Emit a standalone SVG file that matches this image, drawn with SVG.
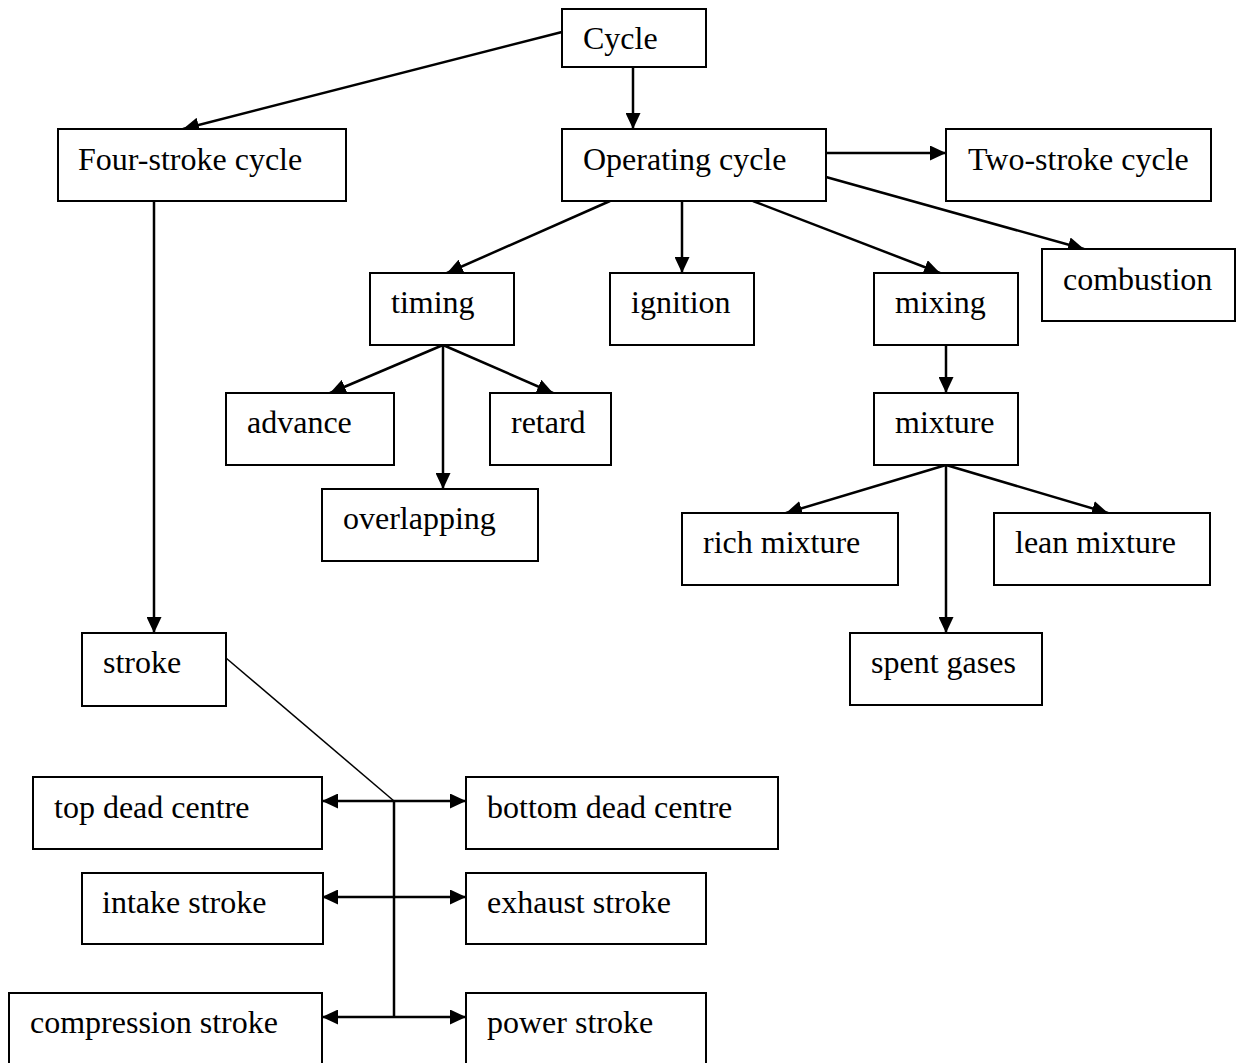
<svg xmlns="http://www.w3.org/2000/svg" width="1243" height="1063" viewBox="0 0 1243 1063">
<style>
.box{fill:#fff;stroke:#000;stroke-width:2}
.lbl{font-family:"Liberation Serif","Times New Roman",serif;font-size:32px;fill:#000}
.c{stroke:#000;stroke-width:2.5;fill:none}
.a{marker-end:url(#ah)}
.d{marker-start:url(#ah);marker-end:url(#ah)}
.thin{stroke:#000;stroke-width:1.5;fill:none}
</style>
<defs>
<marker id="ah" markerUnits="userSpaceOnUse" markerWidth="16" markerHeight="15" refX="16" refY="7.5" orient="auto-start-reverse" viewBox="0 0 16 15">
<path d="M0,0 L16,7.5 L0,15 z" fill="#000"/>
</marker>
</defs>
<rect width="1243" height="1063" fill="#fff"/>
<g id="connectors">
<line class="c a" x1="562" y1="32" x2="183" y2="129"/>
<line class="c a" x1="633" y1="57" x2="633" y2="129"/>
<line class="c a" x1="826" y1="153" x2="946" y2="153"/>
<line class="c a" x1="826" y1="177" x2="1084" y2="249"/>
<line class="c a" x1="753" y1="201" x2="940" y2="273"/>
<line class="c a" x1="610" y1="201" x2="447" y2="273"/>
<line class="c a" x1="682" y1="201" x2="682" y2="273"/>
<line class="c a" x1="443" y1="345" x2="330" y2="393"/>
<line class="c a" x1="443" y1="345" x2="443" y2="489"/>
<line class="c a" x1="443" y1="345" x2="553" y2="393"/>
<line class="c a" x1="946" y1="345" x2="946" y2="393"/>
<line class="c a" x1="946" y1="465" x2="786" y2="513"/>
<line class="c a" x1="946" y1="465" x2="946" y2="633"/>
<line class="c a" x1="946" y1="465" x2="1108" y2="513"/>
<line class="c a" x1="154" y1="201" x2="154" y2="633"/>
<line class="thin" x1="226" y1="658" x2="394" y2="801"/>
<line class="c" x1="394" y1="801" x2="394" y2="1017"/>
<line class="c d" x1="322" y1="801" x2="466" y2="801"/>
<line class="c d" x1="322" y1="897" x2="466" y2="897"/>
<line class="c d" x1="322" y1="1017" x2="466" y2="1017"/>
</g>
<g id="n-cycle"><rect class="box" x="562" y="9" width="144" height="58"/><text class="lbl" x="583" y="49">Cycle</text></g>
<g id="n-four"><rect class="box" x="58" y="129" width="288" height="72"/><text class="lbl" x="78" y="170">Four-stroke cycle</text></g>
<g id="n-operating"><rect class="box" x="562" y="129" width="264" height="72"/><text class="lbl" x="583" y="170">Operating cycle</text></g>
<g id="n-two"><rect class="box" x="946" y="129" width="265" height="72"/><text class="lbl" x="968" y="170">Two-stroke cycle</text></g>
<g id="n-combustion"><rect class="box" x="1042" y="249" width="193" height="72"/><text class="lbl" x="1063" y="290">combustion</text></g>
<g id="n-timing"><rect class="box" x="370" y="273" width="144" height="72"/><text class="lbl" x="391" y="313">timing</text></g>
<g id="n-ignition"><rect class="box" x="610" y="273" width="144" height="72"/><text class="lbl" x="631" y="313">ignition</text></g>
<g id="n-mixing"><rect class="box" x="874" y="273" width="144" height="72"/><text class="lbl" x="895" y="313">mixing</text></g>
<g id="n-advance"><rect class="box" x="226" y="393" width="168" height="72"/><text class="lbl" x="247" y="433">advance</text></g>
<g id="n-retard"><rect class="box" x="490" y="393" width="121" height="72"/><text class="lbl" x="511" y="433">retard</text></g>
<g id="n-overlapping"><rect class="box" x="322" y="489" width="216" height="72"/><text class="lbl" x="343" y="529">overlapping</text></g>
<g id="n-mixture"><rect class="box" x="874" y="393" width="144" height="72"/><text class="lbl" x="895" y="433">mixture</text></g>
<g id="n-rich"><rect class="box" x="682" y="513" width="216" height="72"/><text class="lbl" x="703" y="553">rich mixture</text></g>
<g id="n-lean"><rect class="box" x="994" y="513" width="216" height="72"/><text class="lbl" x="1015" y="553">lean mixture</text></g>
<g id="n-spent"><rect class="box" x="850" y="633" width="192" height="72"/><text class="lbl" x="871" y="673">spent gases</text></g>
<g id="n-stroke"><rect class="box" x="82" y="633" width="144" height="73"/><text class="lbl" x="103" y="673">stroke</text></g>
<g id="n-tdc"><rect class="box" x="33" y="777" width="289" height="72"/><text class="lbl" x="54" y="818">top dead centre</text></g>
<g id="n-bdc"><rect class="box" x="466" y="777" width="312" height="72"/><text class="lbl" x="487" y="818">bottom dead centre</text></g>
<g id="n-intake"><rect class="box" x="82" y="873" width="241" height="71"/><text class="lbl" x="102" y="913">intake stroke</text></g>
<g id="n-exhaust"><rect class="box" x="466" y="873" width="240" height="71"/><text class="lbl" x="487" y="913">exhaust stroke</text></g>
<g id="n-compression"><rect class="box" x="9" y="993" width="313" height="72"/><text class="lbl" x="30" y="1033">compression stroke</text></g>
<g id="n-power"><rect class="box" x="466" y="993" width="240" height="72"/><text class="lbl" x="487" y="1033">power stroke</text></g>
</svg>
